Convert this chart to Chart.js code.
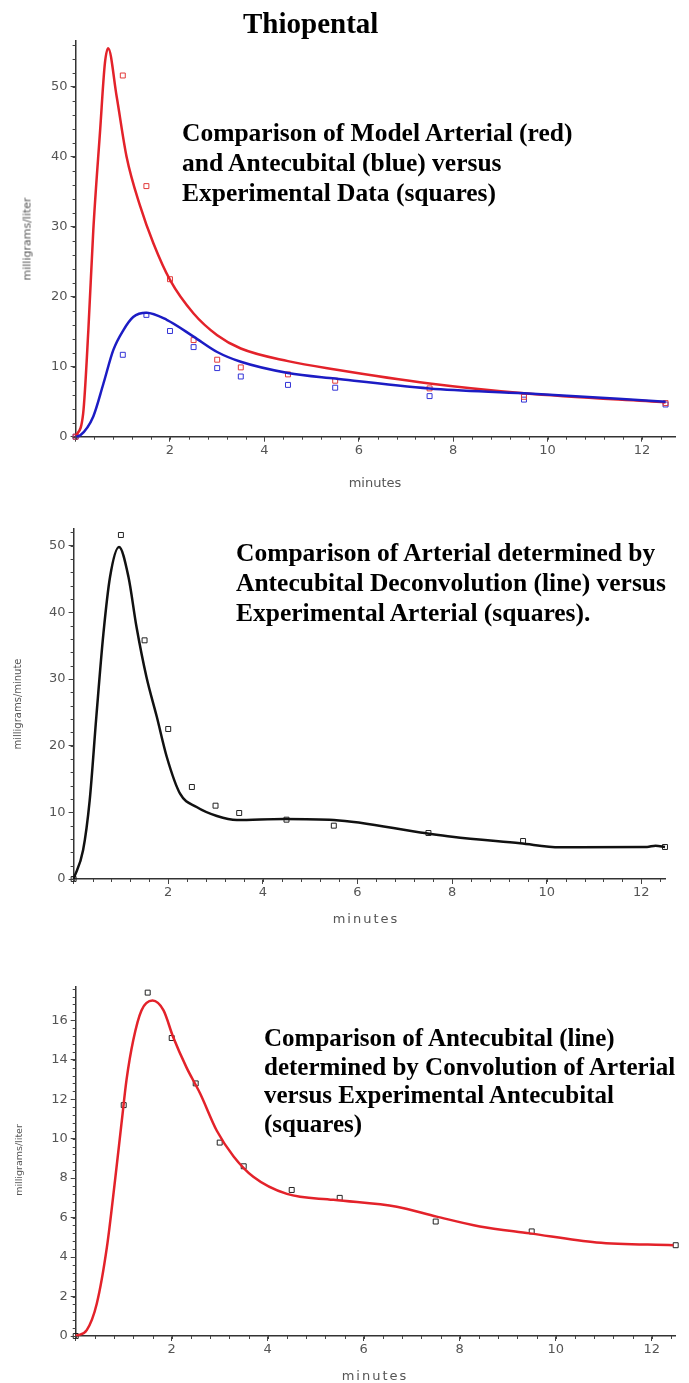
<!DOCTYPE html>
<html>
<head>
<meta charset="utf-8">
<script src="https://cdn.jsdelivr.net/npm/chart.js@4/dist/chart.umd.min.js"></script>
<style>
  body { margin: 0; background: #fff; }
  #page { position: relative; width: 689px; height: 1383px; overflow: hidden; background: #fff; }
  canvas { position: absolute; left: 0; }
  .note { position: absolute; font-family: "Liberation Serif", "Times New Roman", serif; font-weight: bold; color: #000; white-space: nowrap; }
  .axis { position: absolute; font-family: "DejaVu Sans", sans-serif; color: #555; white-space: nowrap; }
  .ylab { transform: translate(-50%, -50%) rotate(-90deg); }
  .xlab { transform: translate(-50%, -50%); }
</style>
</head>
<body>
<div id="page">
  <canvas id="c1" width="689" height="500" style="top:0px"></canvas>
  <canvas id="c2" width="689" height="430" style="top:500px"></canvas>
  <canvas id="c3" width="689" height="453" style="top:930px"></canvas>

  <div class="note" style="left:243px; top:9px; font-size:29px; line-height:29px;">Thiopental</div>

  <div class="note" style="left:182px; top:118px; font-size:25.5px; line-height:30px;">Comparison of Model Arterial (red)<br>and Antecubital (blue) versus<br>Experimental Data (squares)</div>
  <div class="note" style="left:236px; top:538px; font-size:25.5px; line-height:30px;">Comparison of Arterial determined by<br>Antecubital Deconvolution (line) versus<br>Experimental Arterial (squares).</div>
  <div class="note" style="left:264px; top:1024px; font-size:25px; line-height:28.5px;">Comparison of Antecubital (line)<br>determined by Convolution of Arterial<br>versus Experimental Antecubital<br>(squares)</div>

  <div class="axis ylab" style="left:27px; top:239px; font-size:11px;">milligrams/liter</div>
  <div class="axis xlab" style="left:375px; top:482px; font-size:13px;">minutes</div>

  <div class="axis ylab" style="left:17px; top:704px; font-size:10px;">milligrams/minute</div>
  <div class="axis xlab" style="left:366px; top:918px; font-size:13px; letter-spacing:2px;">minutes</div>

  <div class="axis ylab" style="left:18px; top:1160px; font-size:9.5px;">milligrams/liter</div>
  <div class="axis xlab" style="left:375px; top:1375px; font-size:13px; letter-spacing:2px;">minutes</div>
</div>

<script>
// measured samples (squares)
const sampleMinutes = [0, 1, 1.5, 2, 2.5, 3, 3.5, 4.5, 5.5, 7.5, 9.5, 12.5];
const arterialMeasured = [0, 51.6, 35.8, 22.5, 13.8, 11.0, 9.9, 8.9, 8.0, 6.9, 5.7, 4.8];
const antecubitalMeasured = [0, 11.7, 17.4, 15.1, 12.8, 9.8, 8.6, 7.4, 7.0, 5.8, 5.3, 4.6];

// model arterial curve (top panel, red)
const modelArtT = [0, 0.16, 0.27, 0.375, 0.52, 0.62, 0.69, 0.87, 1.08, 1.37, 1.65, 2.0, 2.5, 3.0, 3.5, 4.5, 5.5, 7.5, 9.5, 12.5];
const modelArtY = [0, 3.3, 15.2, 29.5, 43.8, 53.3, 55.5, 48.6, 40.0, 32.9, 27.6, 22.4, 17.6, 14.5, 12.6, 10.8, 9.6, 7.6, 6.2, 4.9];

// model antecubital curve (top panel, blue)
const modelAntT = [0, 0.1, 0.375, 0.59, 0.8, 1.01, 1.22, 1.5, 1.93, 2.5, 3.0, 3.5, 4.5, 5.5, 7.5, 9.5, 12.5];
const modelAntY = [0, 0.2, 2.9, 7.6, 12.4, 15.2, 17.1, 17.7, 16.7, 14.3, 12.1, 10.7, 9.1, 8.3, 6.9, 6.2, 5.0];

// deconvolved arterial (middle panel)
const deconvT = [0, 0.2, 0.34, 0.48, 0.63, 0.77, 0.96, 1.16, 1.33, 1.54, 1.76, 1.97, 2.25, 2.6, 3.03, 3.45, 4.44, 5.5, 7.46, 8.0, 9.44, 10.28, 12.12, 12.3, 12.5];
const deconvY = [0, 4.3, 11.8, 24.3, 36.8, 45.3, 49.8, 45.3, 37.8, 30.3, 24.3, 18.3, 12.8, 10.8, 9.45, 8.85, 9.0, 8.85, 6.85, 6.35, 5.35, 4.75, 4.8, 5.0, 4.8];

// convolved antecubital (bottom panel)
const convT = [0, 0.23, 0.44, 0.65, 0.82, 0.96, 1.06, 1.2, 1.37, 1.6, 1.83, 2.03, 2.31, 2.59, 2.94, 3.29, 3.7, 4.4, 5.37, 6.69, 7.52, 8.42, 9.46, 10.85, 12.45];
const convY = [0, 0.3, 1.65, 4.5, 7.9, 10.9, 13.0, 15.0, 16.5, 17.0, 16.5, 15.15, 13.6, 12.3, 10.4, 9.1, 8.07, 7.2, 6.9, 6.55, 6.05, 5.55, 5.2, 4.74, 4.6];

const pairs = (xs, ys) => xs.map((x, i) => ({ x, y: ys[i] }));

// small in-between tick marks, placed with the chart's own scales
const minorTicks = {
  id: 'minorTicks',
  afterDraw(chart, args, opts) {
    const ctx = chart.ctx;
    const xs = chart.scales.x, ys = chart.scales.y;
    const area = chart.chartArea;
    ctx.save();
    ctx.strokeStyle = '#444';
    ctx.lineWidth = 1;
    ctx.beginPath();
    for (let i = 0; i * opts.x <= xs.max + 1e-9; i++) {
      const px = Math.round(xs.getPixelForValue(i * opts.x)) + 0.5;
      ctx.moveTo(px, area.bottom);
      ctx.lineTo(px, area.bottom + 3);
    }
    for (let i = 0; i * opts.y <= ys.max + 1e-9; i++) {
      const py = Math.round(ys.getPixelForValue(i * opts.y)) + 0.5;
      ctx.moveTo(area.left - 3, py);
      ctx.lineTo(area.left, py);
    }
    ctx.stroke();
    ctx.restore();
  }
};

function makePanel(id, cfg) {
  const canvas = document.getElementById(id);
  const H = canvas.height;
  const tickFont = { family: 'DejaVu Sans, sans-serif', size: 13 };
  new Chart(canvas, {
    type: 'line',
    data: { datasets: cfg.datasets },
    plugins: [minorTicks],
    options: {
      responsive: false,
      animation: false,
      layout: { padding: { left: 0, right: 689 - cfg.right, top: cfg.top, bottom: 0 } },
      plugins: {
        legend: { display: false },
        tooltip: { enabled: false },
        minorTicks: { x: 0.4, y: cfg.minorY }
      },
      elements: { point: { hitRadius: 0 } },
      scales: {
        x: {
          type: 'linear',
          min: 0,
          max: cfg.xMax,
          afterFit: s => { s.height = H - cfg.bottom; },
          border: { display: true, color: '#333', width: 1.5 },
          grid: { drawOnChartArea: false, drawTicks: true, tickLength: 5, color: '#444' },
          ticks: {
            stepSize: 2,
            includeBounds: false,
            autoSkip: false,
            maxRotation: 0,
            padding: 1,
            color: '#555',
            font: tickFont,
            callback: v => (v === 0 ? '' : v)
          }
        },
        y: {
          min: 0,
          max: cfg.yMax,
          afterFit: s => { s.width = cfg.left; },
          border: { display: true, color: '#333', width: 1.5 },
          grid: { drawOnChartArea: false, drawTicks: true, tickLength: 5, color: '#444' },
          ticks: {
            stepSize: cfg.yStep,
            includeBounds: false,
            autoSkip: false,
            padding: 3,
            color: '#555',
            font: tickFont
          }
        }
      }
    }
  });
}

const curve = (data, color, width) => ({
  data, borderColor: color, borderWidth: width, pointRadius: 0,
  cubicInterpolationMode: 'monotone', fill: false, clip: false
});
const squares = (data, color) => ({
  data, showLine: false, pointStyle: 'rect', pointRadius: 3.5, pointBorderWidth: 1,
  pointBorderColor: color, pointBackgroundColor: 'rgba(0,0,0,0)', clip: false
});

makePanel('c1', {
  left: 75.6, right: 675, top: 41.2, bottom: 436.7, xMax: 12.7, yMax: 56.5, yStep: 10, minorY: 2,
  datasets: [
    curve(pairs(modelAntT, modelAntY), '#1c1cc4', 2.5),
    curve(pairs(modelArtT, modelArtY), '#e3222a', 2.5),
    squares(pairs(sampleMinutes, arterialMeasured), '#e23a3a'),
    squares(pairs(sampleMinutes, antecubitalMeasured), '#3333d6')
  ]
});

makePanel('c2', {
  left: 73.6, right: 665, top: 29, bottom: 379, xMax: 12.5, yMax: 52.5, yStep: 10, minorY: 2,
  datasets: [
    curve(pairs(deconvT, deconvY), '#111', 2.5),
    squares(pairs(sampleMinutes, arterialMeasured), '#222')
  ]
});

makePanel('c3', {
  left: 75.7, right: 675.7, top: 56.7, bottom: 406, xMax: 12.5, yMax: 17.7, yStep: 2, minorY: 0.4,
  datasets: [
    curve(pairs(convT, convY), '#e3222a', 2.5),
    squares(pairs(sampleMinutes, antecubitalMeasured), '#222')
  ]
});
</script>
</body>
</html>
